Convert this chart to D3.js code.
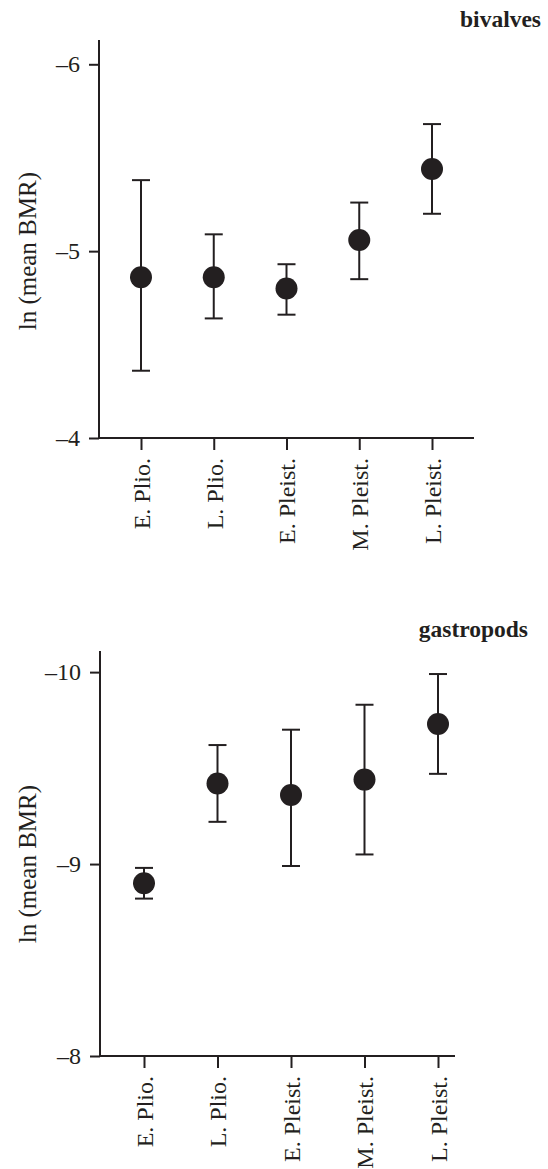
<!DOCTYPE html>
<html>
<head>
<meta charset="utf-8">
<script src="https://cdn.jsdelivr.net/npm/d3@7"></script>
<style>
  body { margin: 0; background: #fff; }
  svg text { font-family: "Liberation Serif", "Times New Roman", serif; fill: #231f20; }
</style>
</head>
<body>
<script>
// Data
const periods = ["E. Plio.", "L. Plio.", "E. Pleist.", "M. Pleist.", "L. Pleist."];

const bivalveMean = [-4.86, -4.86, -4.80, -5.06, -5.44];
const bivalveLow  = [-4.36, -4.64, -4.66, -4.85, -5.20];
const bivalveHigh = [-5.38, -5.09, -4.93, -5.26, -5.68];
const bivalveTicks = [-6, -5, -4];

const gastroMean = [-8.90, -9.42, -9.36, -9.44, -9.73];
const gastroLow  = [-8.82, -9.22, -8.99, -9.05, -9.47];
const gastroHigh = [-8.98, -9.62, -9.70, -9.83, -9.99];
const gastroTicks = [-10, -9, -8];

const ink = "#231f20";
const width = 548, height = 1169;

const svg = d3.select("body").append("svg")
    .attr("width", width)
    .attr("height", height);

// one panel per group
const panels = [
    { title: "bivalves", mean: bivalveMean, lo: bivalveLow, hi: bivalveHigh, ticks: bivalveTicks,
      yDomain: [-4, -6.13], yRange: [438, 40], xRange: [141, 432], axisX: 99, axisEnd: 474,
      titleX: 541, titleY: 27 },
    { title: "gastropods", mean: gastroMean, lo: gastroLow, hi: gastroHigh, ticks: gastroTicks,
      yDomain: [-8, -10.11], yRange: [1056, 651], xRange: [144, 438], axisX: 100, axisEnd: 455,
      titleX: 528, titleY: 637 }
];

panels.forEach(p => {
    const g = svg.append("g");

    const y = d3.scaleLinear().domain(p.yDomain).range(p.yRange);
    const x = d3.scalePoint().domain(periods).range(p.xRange);

    // y axis
    const yAxis = g.append("g")
        .attr("transform", `translate(${p.axisX},0)`)
        .call(d3.axisLeft(y).tickValues(p.ticks).tickSize(10).tickPadding(9)
            .tickFormat(d => "\u2013" + Math.abs(d)));
    yAxis.select(".domain").remove();
    yAxis.selectAll(".tick line").attr("stroke", ink).attr("stroke-width", 2);
    yAxis.selectAll(".tick text").attr("font-size", 24).attr("fill", ink);

    g.append("line")
        .attr("x1", p.axisX).attr("x2", p.axisX)
        .attr("y1", y(p.yDomain[1])).attr("y2", y(p.yDomain[0]) + 1)
        .attr("stroke", ink).attr("stroke-width", 2);

    // x axis
    const xAxis = g.append("g")
        .attr("transform", `translate(0,${y(p.yDomain[0])})`)
        .call(d3.axisBottom(x).tickSize(12).tickPadding(0));
    xAxis.select(".domain").remove();
    xAxis.selectAll(".tick line").attr("stroke", ink).attr("stroke-width", 2);
    xAxis.selectAll(".tick text")
        .attr("font-size", 24)
        .attr("fill", ink)
        .attr("text-anchor", "end")
        .attr("transform", "rotate(-90)")
        .attr("x", -20)
        .attr("y", 0)
        .attr("dy", "0.35em");

    g.append("line")
        .attr("x1", p.axisX - 1).attr("x2", p.axisEnd)
        .attr("y1", y(p.yDomain[0])).attr("y2", y(p.yDomain[0]))
        .attr("stroke", ink).attr("stroke-width", 2);

    // y label
    const mid = (y(p.ticks[0]) + y(p.ticks[p.ticks.length - 1])) / 2;
    g.append("text")
        .attr("transform", `translate(36,${mid}) rotate(-90)`)
        .attr("text-anchor", "middle")
        .attr("font-size", 25)
        .text("ln (mean BMR)");

    // title
    g.append("text")
        .attr("x", p.titleX).attr("y", p.titleY)
        .attr("text-anchor", "end")
        .attr("font-size", 23.5)
        .attr("font-weight", "bold")
        .text(p.title);

    // error bars and points
    const rows = periods.map((c, i) => ({ c, m: p.mean[i], lo: p.lo[i], hi: p.hi[i] }));
    const cap = 9;
    const bars = g.append("g").selectAll("g").data(rows).enter().append("g")
        .attr("stroke", ink).attr("stroke-width", 2);
    bars.append("line")
        .attr("x1", d => x(d.c)).attr("x2", d => x(d.c))
        .attr("y1", d => y(d.lo)).attr("y2", d => y(d.hi));
    bars.append("line")
        .attr("x1", d => x(d.c) - cap).attr("x2", d => x(d.c) + cap)
        .attr("y1", d => y(d.lo)).attr("y2", d => y(d.lo));
    bars.append("line")
        .attr("x1", d => x(d.c) - cap).attr("x2", d => x(d.c) + cap)
        .attr("y1", d => y(d.hi)).attr("y2", d => y(d.hi));

    g.append("g").selectAll("circle").data(rows).enter().append("circle")
        .attr("cx", d => x(d.c))
        .attr("cy", d => y(d.m))
        .attr("r", 11)
        .attr("fill", ink);
});
</script>
</body>
</html>
